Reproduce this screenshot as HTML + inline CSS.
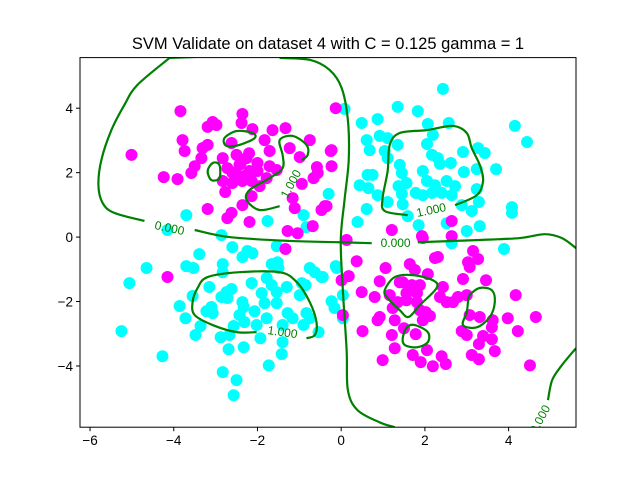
<!DOCTYPE html>
<html><head><meta charset="utf-8"><style>
body{margin:0;background:#fff}
svg{display:block;font-family:"Liberation Sans","DejaVu Sans",sans-serif}
</style></head><body>
<svg id="chart" width="640" height="480" viewBox="0 0 640 480" xmlns="http://www.w3.org/2000/svg">
<rect width="640" height="480" fill="#fff"/>
<text x="328" y="49" text-anchor="middle" font-size="16.5">SVM Validate on dataset 4 with C = 0.125 gamma = 1</text>
<g id="points"></g>
<g id="contours"></g>
<g id="axes"></g>
</svg>
<script>
const xTicks=[-6,-4,-2,0,2,4];
const yTicks=[-4,-2,0,2,4];
const magentaX=[-3.84,-5.01,-2.36,-2.38,-3.19,-2.98,-3.07,-2.12,-1.64,-1.33,-3.79,-3.74,-3.31,-3.19,-2.62,-1.83,-0.75,-1.71,-1.23,-0.99,-0.23,-0.23,-0.58,-0.56,-0.66,-0.13,-3.34,-3.50,-3.58,-4.24,-3.91,-2.83,-2.50,-2.26,-2.72,-2.43,-2.19,-2.00,-2.50,-2.83,-2.60,-2.36,-2.14,-1.71,-1.54,-1.78,-1.95,-2.77,-2.14,-2.36,-3.19,-2.62,-2.72,-2.19,-0.94,-1.16,-1.11,-0.47,-0.35,-0.68,-1.28,-1.04,-2.4,-2.2,-2.6,-2.0,-2.3,-0.25,-0.39,2.64,1.21,1.93,2.64,-4.15,-1.33,
0.13,1.95,3.15,2.24,2.31,3.03,3.27,3.07,0.37,1.06,1.64,1.76,0.18,0.01,0.92,1.40,2.07,2.43,2.91,3.46,0.49,0.80,1.16,1.56,1.81,1.88,1.69,1.35,1.23,1.56,1.81,2.36,2.52,2.67,2.79,3.00,4.17,1.88,2.02,2.12,0.92,0.87,1.28,1.95,3.07,3.31,3.62,3.60,3.98,4.65,4.22,0.51,1.21,1.50,1.78,2.88,3.00,3.39,3.60,3.29,3.67,1.28,2.05,1.71,1.90,0.99,2.40,2.50,2.19,3.12,3.29,4.51,1.47,0.04];
const magentaY=[3.91,2.55,3.82,3.54,3.42,3.48,3.57,3.35,3.32,3.38,3.01,2.67,2.76,2.86,2.92,3.01,3.01,2.67,2.76,2.48,2.70,2.20,2.17,1.99,1.83,4.0,2.45,2.20,1.99,1.86,1.80,2.45,2.55,2.45,2.14,2.24,2.05,2.05,1.93,1.74,1.68,1.74,1.74,2.20,2.08,1.83,1.58,1.40,1.27,0.99,0.87,0.75,0.59,0.47,1.65,1.21,0.90,0.84,0.96,0.34,0.19,0.12,2.3,2.6,2.0,2.3,1.9,2.67,0.96,0.50,0.22,0.03,0.03,-1.24,-0.37,
-0.09,-0.03,-0.43,-0.65,-0.62,-0.78,-0.68,-0.93,-0.75,-0.96,-0.84,-1.02,-1.21,-1.34,-1.37,-1.40,-1.15,-1.55,-1.30,-1.34,-1.71,-1.86,-1.80,-1.74,-1.74,-1.49,-1.49,-2.02,-2.20,-1.96,-2.02,-1.86,-2.02,-2.02,-1.86,-1.80,-1.80,-2.27,-2.33,-2.45,-2.48,-2.58,-2.58,-2.58,-2.42,-2.48,-2.58,-2.80,-2.52,-2.48,-2.92,-2.92,-3.04,-2.83,-3.01,-2.92,-3.04,-3.07,-3.17,-3.32,-3.54,-3.45,-3.51,-3.66,-3.88,-3.82,-3.70,-3.94,-4.01,-3.66,-3.79,-3.98,-1.40,-2.42];
const cyanX=[-3.70,-4.15,-1.76,-0.90,-0.83,-0.30,-2.86,
2.43,1.35,1.83,0.87,0.49,2.07,2.57,4.15,4.44,0.08,0.61,0.92,1.11,1.35,0.68,1.04,1.11,2.05,2.19,2.17,2.31,2.36,2.62,2.91,3.27,3.43,3.24,3.70,2.93,3.24,3.29,3.12,4.08,4.08,1.40,1.45,0.63,0.75,0.44,0.65,0.87,1.11,0.61,0.39,1.37,1.56,1.45,1.47,1.59,1.78,1.95,2.05,2.24,2.52,2.72,2.64,2.40,2.17,1.95,2.88,1.85,2.52,3.00,3.31,
-4.65,-5.06,-5.25,-4.27,-3.39,-3.70,-3.53,-2.83,-2.83,-2.60,-2.24,-2.12,-2.36,-1.54,-1.66,-1.52,-1.50,-0.75,-0.63,-0.47,-0.13,-3.55,-3.86,-3.72,-3.36,-3.48,-3.15,-3.10,-3.22,-3.07,-2.86,-2.74,-2.62,-2.72,-2.36,-2.33,-2.43,-2.07,-2.14,-2.31,-2.57,-2.67,-2.88,-2.69,-2.33,-2.02,-1.78,-1.93,-1.90,-1.83,-1.78,-1.66,-1.54,-1.54,-1.30,-1.28,-1.16,-1.40,-1.40,-1.42,-1.73,-2.83,-2.50,-2.57,-0.94,-0.85,-0.99,-0.83,-0.75,-0.90,-0.54,-0.23,-0.16,-0.11,0.04,2.64,3.89,-0.44,0.04];
const cyanY=[0.68,0.22,0.50,0.68,0.31,1.34,0.06,
4.60,4.04,3.91,3.66,3.54,3.51,3.54,3.45,2.95,3.98,3.01,3.14,3.07,2.86,2.70,2.67,2.45,2.89,3.17,2.55,2.45,2.27,2.30,2.64,2.76,2.61,2.11,2.11,2.02,1.49,1.09,0.81,0.93,0.75,2.24,1.99,1.93,1.93,1.61,1.52,1.30,1.09,0.87,0.47,1.58,1.68,1.34,1.02,0.65,1.37,2.05,1.74,1.61,1.74,1.58,1.30,1.37,1.37,1.30,0.99,0.37,0.43,0.19,0.34,
-0.96,-1.43,-2.92,-3.70,-0.53,-0.90,-0.96,-0.84,-1.09,-0.31,-0.43,-0.50,-0.62,-0.28,-0.84,-0.78,-0.96,-0.96,-1.09,-1.24,-0.90,-1.83,-2.14,-2.52,-2.76,-3.04,-1.55,-2.17,-2.30,-2.36,-1.86,-1.71,-1.61,-1.89,-2.02,-2.17,-2.42,-2.30,-1.43,-2.64,-2.76,-3.04,-3.11,-3.48,-3.42,-2.73,-2.52,-3.14,-1.74,-2.05,-1.27,-1.49,-1.71,-2.05,-1.55,-2.36,-2.52,-2.73,-3.26,-3.63,-3.98,-4.19,-4.44,-4.91,-1.43,-1.49,-1.80,-2.36,-2.52,-2.73,-2.95,-1.99,-2.20,-0.96,-2.52,-0.19,-0.37,-1.24,-1.80];
// contour polylines [x,y] in data units; closed flag
const contourLines=[
 {c:false,p:[[-4.10,5.56],[-4.87,4.72],[-5.18,4.10],[-5.49,3.32],[-5.73,2.39],[-5.80,1.61],[-5.70,1.06],[-5.42,0.75],[-4.70,0.50]]},
 {c:false,p:[[-3.50,0.22],[-2.67,0],[-1.23,-0.12],[-0.04,-0.16],[0.73,-0.19]]},
 {c:false,p:[[1.83,-0.16],[3.31,-0.09],[4.27,-0.03],[4.87,0.09],[5.27,-0.03],[5.61,-0.34]]},
 {c:false,p:[[-4.10,5.56],[-3.3,5.6]]},
 {c:false,p:[[-1.47,5.56],[-0.75,5.50],[-0.28,5.19],[0.01,4.63],[0.16,3.63],[0.18,2.39],[0.08,1.15],[-0.01,-0.09],[0.04,-1.65],[0.13,-3.51],[0.16,-4.75],[0.39,-5.37],[0.92,-5.75],[1.28,-5.90]]},
 {c:false,p:[[4.94,-5.06],[5.04,-4.44],[5.27,-3.98],[5.61,-3.45]]},
 {c:false,p:[[2.72,0.99],[3.24,1.30],[3.39,1.74],[3.31,2.24],[3.12,2.76],[3.00,3.23],[2.67,3.45],[2.05,3.32],[1.40,3.23],[1.16,2.86],[1.11,2.05],[0.99,1.21],[1.04,0.81],[1.59,0.68]]},
 {c:true,p:[[-2.74,2.83],[-2.79,3.07],[-2.50,3.29],[-2.12,3.23],[-2.07,3.07],[-2.43,2.86]]},
 {c:true,p:[[-3.19,2.05],[-3.07,2.30],[-2.91,2.24],[-2.91,1.83],[-3.10,1.77]]},
 {c:false,p:[[-1.47,0.96],[-1.95,0.84],[-2.26,1.15],[-2.19,1.46],[-1.71,1.83],[-1.40,2.14],[-1.40,2.55],[-1.47,3.01],[-1.16,3.14],[-0.83,2.86],[-0.80,2.55],[-0.94,2.39]]},
 {c:false,p:[[-2.02,-2.95],[-2.50,-2.95],[-3.07,-2.73],[-3.50,-2.42],[-3.55,-2.02],[-3.43,-1.58],[-3.19,-1.24],[-2.43,-1.09],[-1.47,-1.09],[-1.06,-1.40],[-0.75,-2.02],[-0.59,-2.64],[-0.63,-3.04],[-0.83,-3.14]]},
 {c:true,p:[[1.04,-1.65],[1.28,-1.24],[1.71,-1.18],[2.19,-1.34],[2.28,-1.58],[1.88,-2.11],[1.61,-2.48],[1.40,-2.27],[1.11,-1.89]]},
 {c:true,p:[[1.47,-3.14],[1.57,-2.80],[1.76,-2.73],[2.07,-2.95],[2.07,-3.26],[1.81,-3.42],[1.52,-3.35]]},
 {c:true,p:[[3.07,-1.80],[3.31,-1.58],[3.60,-1.65],[3.67,-2.02],[3.55,-2.48],[3.24,-2.80],[2.91,-2.73],[3.00,-2.33],[3.03,-2.02]]}
];
const contourLabels=[["0.000",-4.10,0.28,12],["0.000",1.30,-0.19,0],["1.000",2.15,0.84,-12],["1.000",-1.20,1.65,-62],["1.000",-1.40,-2.95,8],["0.000",4.75,-5.65,-62]];

const L=80,R=576,T=57.6,B=427.2,XMIN=-6.24,XMAX=5.61,YMIN=-5.90,YMAX=5.57;
const sx=v=>L+(v-XMIN)/(XMAX-XMIN)*(R-L);
const sy=v=>B-(v-YMIN)/(YMAX-YMIN)*(B-T);
const NS="http://www.w3.org/2000/svg";
function mk(t,a,parent){const e=document.createElementNS(NS,t);for(const k in a)e.setAttribute(k,a[k]);parent.appendChild(e);return e;}
const svg=document.getElementById('chart');
let defs=mk('defs',{},svg);
let cp=mk('clipPath',{id:'clip'},defs);
mk('rect',{x:L,y:T,width:R-L,height:B-T},cp);
const pg=document.getElementById('points');pg.setAttribute('clip-path','url(#clip)');
function drawPts(xs,ys,col,nm){for(let i=0;i<xs.length;i++){
 const c=mk('circle',{cx:sx(xs[i]),cy:sy(ys[i]),r:6,fill:col},pg);
 
 }}
drawPts(cyanX,cyanY,'#00ffff','cyan-point');
drawPts(magentaX,magentaY,'#ff00ff','magenta-point');
const cg=document.getElementById('contours');cg.setAttribute('clip-path','url(#clip)');
function smooth(pts,closed){
 const P=pts.map(p=>[sx(p[0]),sy(p[1])]);const n=P.length;
 let d='M'+P[0][0]+','+P[0][1];
 const segs=closed?n:n-1;
 for(let i=0;i<segs;i++){
  const p0=P[closed?(i-1+n)%n:Math.max(i-1,0)],p1=P[i],p2=P[(i+1)%n],p3=P[closed?(i+2)%n:Math.min(i+2,n-1)];
  const c1=[p1[0]+(p2[0]-p0[0])/6,p1[1]+(p2[1]-p0[1])/6],c2=[p2[0]-(p3[0]-p1[0])/6,p2[1]-(p3[1]-p1[1])/6];
  d+=`C${c1[0]},${c1[1]} ${c2[0]},${c2[1]} ${p2[0]},${p2[1]}`;}
 return d+(closed?'Z':'');}
contourLines.forEach(l=>{
 const e=mk('path',{d:smooth(l.p,l.c),fill:'none',stroke:'#008000','stroke-width':2.2},cg);
 
 });
contourLabels.forEach(l=>{
 const x=sx(l[1]),y=sy(l[2]);
 const t=mk('text',{x:x,y:y+4,'font-size':12,fill:'#008000','text-anchor':'middle',transform:`rotate(${l[3]} ${x} ${y})`},cg);
 t.textContent=l[0];
 
 });
const ag=document.getElementById('axes');
const fr=mk('rect',{x:L,y:T,width:R-L,height:B-T,fill:'none',stroke:'#000','stroke-width':1},ag);


xTicks.forEach(v=>{const x=sx(v);
 mk('line',{x1:x,x2:x,y1:B,y2:B+4,stroke:'#000'},ag);
 const t=mk('text',{x:x,y:B+18,'font-size':13.5,'text-anchor':'middle'},ag);
 t.textContent=v<0?'\u2212'+(-v):v;
 
 });
yTicks.forEach(v=>{const y=sy(v);
 mk('line',{x1:L-4,x2:L,y1:y,y2:y,stroke:'#000'},ag);
 const t=mk('text',{x:L-7,y:y+5,'font-size':13.5,'text-anchor':'end'},ag);
 t.textContent=v<0?'\u2212'+(-v):v;
 
 });
</script>
</body></html>
